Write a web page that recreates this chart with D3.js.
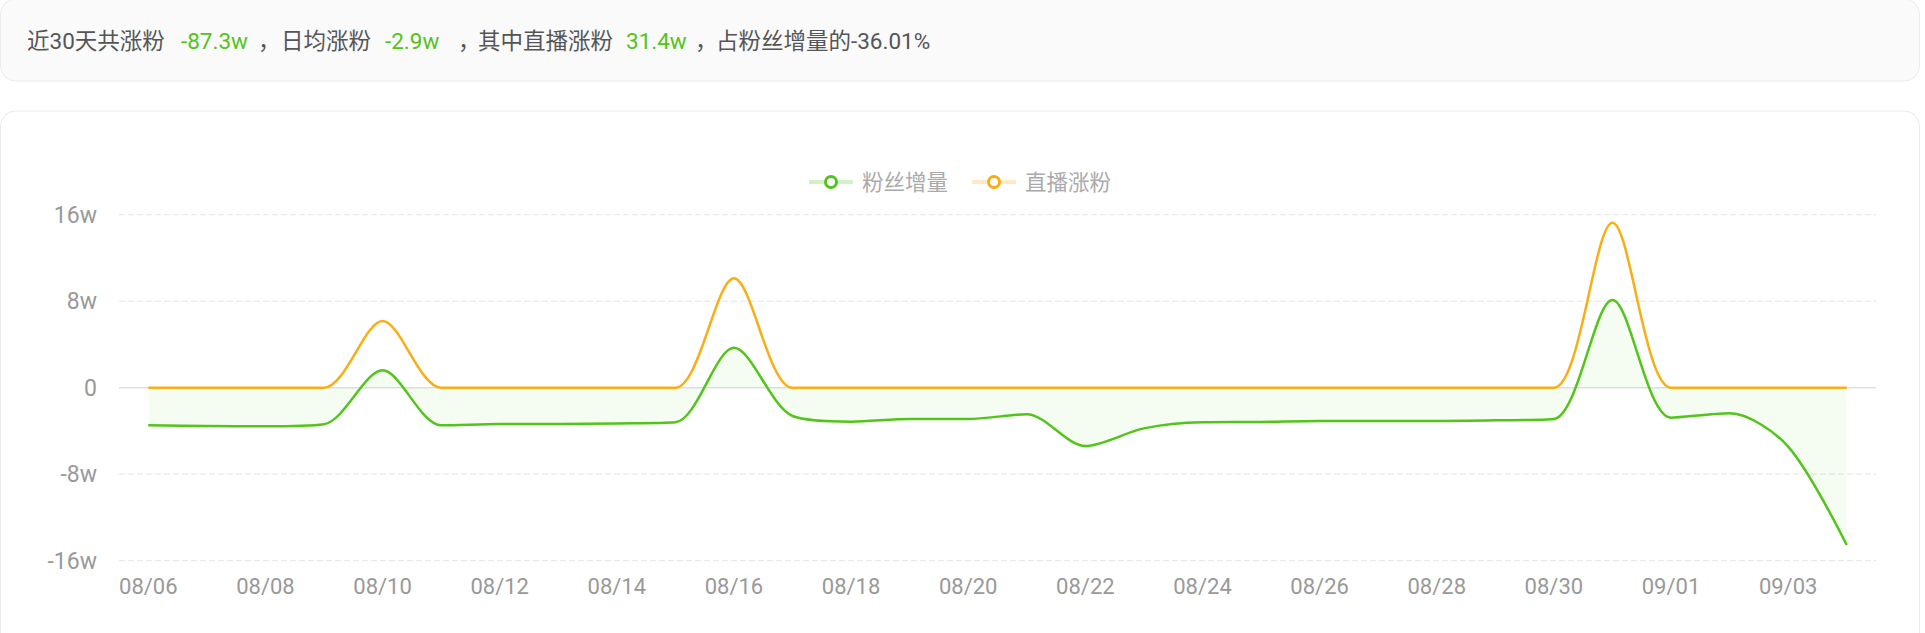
<!DOCTYPE html>
<html>
<head>
<meta charset="utf-8">
<script src="https://cdn.jsdelivr.net/npm/d3@7/dist/d3.min.js"></script>
<style>
  html, body { margin: 0; padding: 0; background: #fff; }
  svg { display: block; }
  text { font-family: Roboto, "Noto Sans CJK SC", sans-serif; }
</style>
</head>
<body>
<svg id="chart" width="1925" height="633"></svg>
<script>
// ---------- data ----------
const dates = ["08/06","08/07","08/08","08/09","08/10","08/11","08/12","08/13","08/14","08/15",
               "08/16","08/17","08/18","08/19","08/20","08/21","08/22","08/23","08/24","08/25",
               "08/26","08/27","08/28","08/29","08/30","08/31","09/01","09/02","09/03","09/04"];
// values in 万 (w)
const fansGain = [-3.48,-3.55,-3.57,-3.38,1.61,-3.48,-3.36,-3.35,-3.30,-3.20,
                  3.70,-2.62,-3.14,-2.90,-2.90,-2.46,-5.39,-3.76,-3.20,-3.17,
                  -3.08,-3.08,-3.08,-3.02,-2.90,8.11,-2.77,-2.37,-5.45,-14.55];
const liveGain = [0,0,0,0,6.17,0,0,0,0,0,
                  10.12,0,0,0,0,0,0,0,0,0,
                  0,0,0,0,0,15.26,0,0,0,0];
const seriesNames = ["粉丝增量","直播涨粉"];
const yTicks = [-16,-8,0,8,16];
const xTickLabels = dates.filter((d,i)=> i % 2 === 0);

const summaryParts = [
  {t:"近30天共涨粉", c:"#555"},
  {t:"-87.3w", c:"#52c41a"},
  {t:"，", c:"#555"},
  {t:"日均涨粉", c:"#555"},
  {t:"-2.9w", c:"#52c41a"},
  {t:"，", c:"#555"},
  {t:"其中直播涨粉", c:"#555"},
  {t:"31.4w", c:"#52c41a"},
  {t:"，", c:"#555"},
  {t:"占粉丝增量的-36.01%", c:"#555"}
];
const summaryX = [27,181,258,281,385,458,478,626,695,716];

// ---------- smooth curve (bezier with neighbour-clamped control points) ----------
function SmoothCurve(context, smooth) { this._context = context; this._smooth = smooth; }
SmoothCurve.prototype = {
  areaStart() { this._line = 0; },
  areaEnd() { this._line = NaN; },
  lineStart() { this._pts = []; },
  point(x, y) { this._pts.push([+x, +y]); },
  lineEnd() {
    const ctx = this._context, pts = this._pts, n = pts.length, s = this._smooth;
    if (n) {
      if (this._line) ctx.lineTo(pts[0][0], pts[0][1]); else ctx.moveTo(pts[0][0], pts[0][1]);
      let cpx0 = pts[0][0], cpy0 = pts[0][1];
      let prevX = pts[0][0], prevY = pts[0][1];
      for (let i = 1; i < n; i++) {
        const x = pts[i][0], y = pts[i][1];
        let cpx1, cpy1, nextCpx0, nextCpy0;
        if (i === n - 1) { cpx1 = x; cpy1 = y; nextCpx0 = x; nextCpy0 = y; }
        else {
          const nextX = pts[i+1][0], nextY = pts[i+1][1];
          let vx = nextX - prevX, vy = nextY - prevY;
          const dx0 = x - prevX, dx1 = nextX - x, dy0 = y - prevY, dy1 = nextY - y;
          const lenPrev = Math.hypot(dx0, dy0), lenNext = Math.hypot(dx1, dy1);
          const ratio = lenNext / (lenNext + lenPrev);
          nextCpx0 = x + vx * s * ratio;
          nextCpy0 = y + vy * s * ratio;
          nextCpx0 = Math.max(Math.min(nextCpx0, Math.max(nextX, x)), Math.min(nextX, x));
          nextCpy0 = Math.max(Math.min(nextCpy0, Math.max(nextY, y)), Math.min(nextY, y));
          vx = nextCpx0 - x; vy = nextCpy0 - y;
          cpx1 = x - vx * lenPrev / lenNext;
          cpy1 = y - vy * lenPrev / lenNext;
          cpx1 = Math.max(Math.min(cpx1, Math.max(prevX, x)), Math.min(prevX, x));
          cpy1 = Math.max(Math.min(cpy1, Math.max(prevY, y)), Math.min(prevY, y));
          vx = x - cpx1; vy = y - cpy1;
          nextCpx0 = x + vx * lenNext / lenPrev;
          nextCpy0 = y + vy * lenNext / lenPrev;
        }
        ctx.bezierCurveTo(cpx0, cpy0, cpx1, cpy1, x, y);
        cpx0 = nextCpx0; cpy0 = nextCpy0;
        prevX = x; prevY = y;
      }
    }
    if (this._line || (this._line !== 0 && n === 1)) ctx.closePath();
    this._line = 1 - this._line;
  }
};
const curveSmooth = ctx => new SmoothCurve(ctx, 0.3);

// ---------- styles ----------
const colors = ["#52c41a","#faad14"];
const svg = d3.select("#chart");

// header panel
svg.append("rect").attr("x",0.5).attr("y",-1).attr("width",1919).attr("height",82)
  .attr("rx",15).attr("fill","#fafafa").attr("stroke","#ececec");
const head = svg.append("text").attr("y",49).attr("font-size",22.5);
head.selectAll("tspan").data(summaryParts).join("tspan")
  .attr("x",(d,i)=>summaryX[i]).attr("fill",d=>d.c).text(d=>d.t);

// chart card
svg.append("rect").attr("x",0.5).attr("y",111).attr("width",1919).attr("height",560)
  .attr("rx",15).attr("fill","#fff").attr("stroke","#ececec");

// ---------- scales ----------
const x = d3.scaleBand().domain(dates).range([119,1876]);
const cx = d => x(d) + x.bandwidth()/2;
const y = d3.scaleLinear().domain([-16,16]).range([560.7,214.7]);

// grid lines
svg.append("g").selectAll("line").data(yTicks.filter(v=>v!==0)).join("line")
  .attr("x1",119).attr("x2",1876).attr("y1",d=>y(d)).attr("y2",d=>y(d))
  .attr("stroke","#e9e9e9").attr("stroke-width",1.3).attr("stroke-dasharray","6,3");
svg.append("line").attr("x1",119).attr("x2",1876).attr("y1",y(0)).attr("y2",y(0))
  .attr("stroke","#e0e0e0").attr("stroke-width",1.5);

// y axis
const yAxis = svg.append("g").attr("transform","translate(119,0)")
  .call(d3.axisLeft(y).tickValues(yTicks).tickSize(0).tickPadding(22)
    .tickFormat(v => v===0 ? "0" : v + "w"));
yAxis.select(".domain").remove();
yAxis.selectAll("text").attr("font-size",23).attr("fill","#999")
  .attr("font-family",'"Noto Sans", Roboto, "Noto Sans CJK SC", sans-serif');

// x axis
const xAxis = svg.append("g").attr("transform","translate(0,560.7)")
  .call(d3.axisBottom(x).tickValues(xTickLabels).tickSize(0).tickPadding(18));
xAxis.select(".domain").remove();
xAxis.selectAll("text").attr("font-size",22).attr("fill","#999")
  .attr("font-family",'Roboto, "Noto Sans CJK SC", sans-serif');

// ---------- series ----------
const fansData = dates.map((d,i)=>({d, v:fansGain[i]}));
const liveData = dates.map((d,i)=>({d, v:liveGain[i]}));

svg.append("path").datum(fansData)
  .attr("d", d3.area().x(p=>cx(p.d)).y0(y(0)).y1(p=>y(p.v)).curve(curveSmooth))
  .attr("fill","rgba(82,196,26,0.06)");

svg.append("path").datum(fansData)
  .attr("d", d3.line().x(p=>cx(p.d)).y(p=>y(p.v)).curve(curveSmooth))
  .attr("fill","none").attr("stroke",colors[0]).attr("stroke-width",2.5)
  .attr("stroke-linejoin","round");

svg.append("path").datum(liveData)
  .attr("d", d3.line().x(p=>cx(p.d)).y(p=>y(p.v)).curve(curveSmooth))
  .attr("fill","none").attr("stroke",colors[1]).attr("stroke-width",2.5)
  .attr("stroke-linejoin","round");

// ---------- legend ----------
const legendX = [809, 972];
const lg = svg.append("g").selectAll("g").data(seriesNames).join("g")
  .attr("transform",(d,i)=>`translate(${legendX[i]},182)`);
lg.append("line").attr("x1",0).attr("x2",44).attr("y1",0).attr("y2",0)
  .attr("stroke",(d,i)=>colors[i]).attr("stroke-opacity",0.25).attr("stroke-width",4);
lg.append("circle").attr("cx",22).attr("cy",0).attr("r",5.5)
  .attr("fill","#fff").attr("stroke",(d,i)=>colors[i]).attr("stroke-width",3);
lg.append("text").attr("x",53).attr("y",0).attr("dy","0.36em")
  .attr("font-size",21.5).attr("fill","#aaa").text(d=>d);
</script>
</body>
</html>
